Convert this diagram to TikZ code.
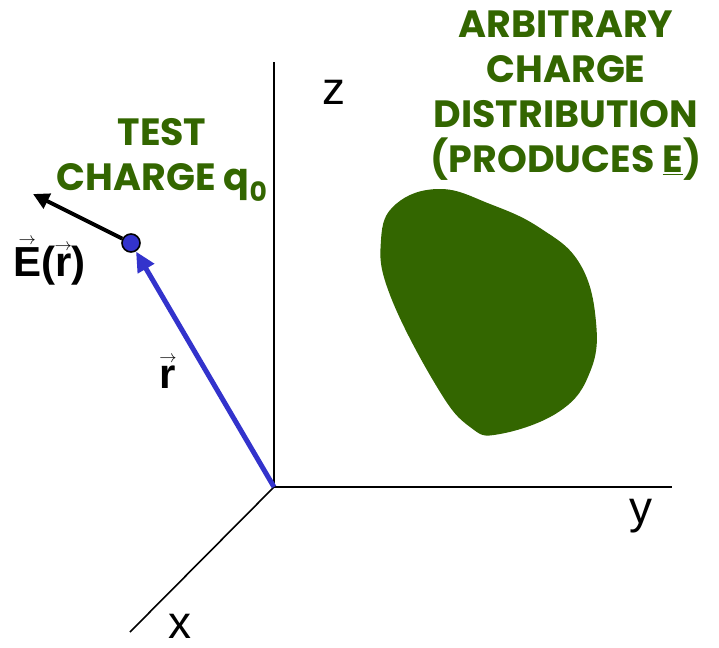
\documentclass[tikz,border=0pt]{standalone}
\usepackage{fontspec}
\setmainfont{Liberation Sans}
\newfontfamily\greenfont{Poppins}
\usetikzlibrary{arrows.meta}
\definecolor{dkgreen}{HTML}{336600}
\definecolor{vblue}{HTML}{3333CC}
\newcommand{\varr}[1]{\begingroup\setbox0\hbox{#1}\rlap{\raisebox{\dimexpr\ht0+3pt\relax}{\makebox[\wd0]{\fontsize{17}{17}\selectfont$\rightarrow$}}}\box0\endgroup}
\tikzset{
  axis/.style={line width=1.6pt, black},
  axlabel/.style={font=\fontsize{46}{50}\selectfont, inner sep=0pt},
  greentext/.style={font=\greenfont\bfseries\fontsize{38}{45}\selectfont, text=dkgreen, align=center, inner sep=0pt},
  vlabel/.style={font=\bfseries\fontsize{42}{46}\selectfont, inner sep=0pt},
}
\begin{document}
\begin{tikzpicture}[x=1pt,y=-1pt]
\useasboundingbox (0,0) rectangle (719,647);
% axes
\coordinate (O) at (274,487);
\coordinate (zend) at (274,62);
\coordinate (yend) at (672,487);
\coordinate (xend) at (130,632);
\draw[axis] (O) -- (zend);
\draw[axis] (O) -- (yend);
\draw[axis] (O) -- (xend);
\node[axlabel] (zl) at (334,92) {z};
\node[axlabel] (yl) at (641,516) {y};
\node[axlabel] (xl) at (180,626) {x};
% charge distribution
\fill[dkgreen] plot[smooth cycle, tension=0.7] coordinates {
  (440,189) (396,204) (381,240) (390,295) (437,387) (470,427) (500,434)
  (560,411) (590,372) (596,322) (580,264) (540,228) (490,204)};
% test charge
\node[circle, draw=black, line width=1.6pt, fill=vblue, minimum size=18pt, inner sep=0pt] (q) at (131,243) {};
\coordinate (Etip) at (33,194);
\draw[line width=4pt, -{Triangle[length=16pt,width=16pt]}] (q) -- (Etip);
\draw[line width=5pt, vblue, -{Triangle[length=20pt,width=18pt]}] (O) -- (q);
% labels
\node[vlabel, anchor=base west] (El) at (13,276) {\varr{E}(\varr{r})};
\node[vlabel, anchor=base] (rl) at (168,388) {\varr{r}};
\node[greentext] (tc) at (162,160) {TEST\\CHARGE q\textsubscript{0}};
\node[greentext] (cd) at (566,96) {ARBITRARY\\CHARGE\\DISTRIBUTION\\(PRODUCES \underline{E})};
\end{tikzpicture}
\end{document}
